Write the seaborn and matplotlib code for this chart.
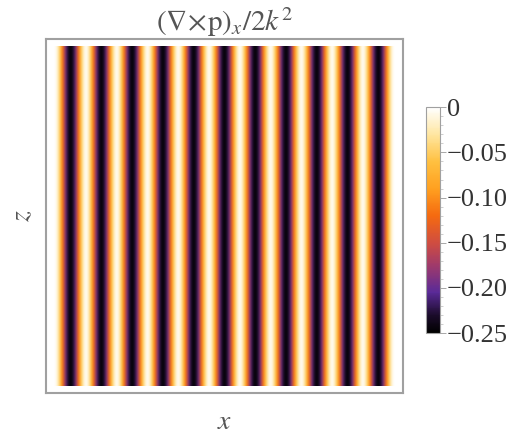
import numpy as np
import pandas as pd
import seaborn as sns
import matplotlib
matplotlib.use('Agg')
import matplotlib.pyplot as plt
from matplotlib.colors import LinearSegmentedColormap

sns.set_style('white')
plt.rcParams['font.family'] = ['Liberation Serif', 'DejaVu Serif']
plt.rcParams['mathtext.fontset'] = 'stix'

# one period of the stripe pattern, read from bright centre to bright centre
stripe_profile = [0.0, -0.02, -0.06, -0.12, -0.19, -0.23, -0.25,
                  -0.23, -0.19, -0.12, -0.06, -0.02]
n_periods = 11
n_rows = 10
cbar_ticks = [0, -0.05, -0.10, -0.15, -0.20, -0.25]
cbar_labels = ['0', '\u22120.05', '\u22120.10', '\u22120.15', '\u22120.20', '\u22120.25']

# colours sampled off the colour bar, bottom to top
sunset_pos = [0.0, 0.08, 0.18, 0.30, 0.40, 0.52, 0.64, 0.76, 0.88, 1.0]
sunset_hex = ['#000000', '#1c0c2c', '#5a2a98', '#a03a6a', '#d04d40',
              '#f56a10', '#ffa020', '#ffc040', '#ffe6a0', '#ffffff']
sunset = LinearSegmentedColormap.from_list('sunset', list(zip(sunset_pos, sunset_hex)))

row = np.array(stripe_profile * n_periods + stripe_profile[:1])
field = pd.DataFrame(np.tile(row, (n_rows, 1)))

fig = plt.figure(figsize=(5.28, 4.43), dpi=100)
ax = fig.add_axes([0.087, 0.113, 0.676, 0.799])
cax = fig.add_axes([0.807, 0.248, 0.0265, 0.510])

sns.heatmap(field, ax=ax, cbar_ax=cax, cmap=sunset, vmin=-0.25, vmax=0,
            xticklabels=False, yticklabels=False)

ncol = field.shape[1]
# smooth the stripes: hide the cell mesh and draw the same grid with bicubic shading
mesh = ax.collections[0]
mesh.set_visible(False)
ax.imshow(field.values, extent=(0, ncol, n_rows, 0), aspect='auto',
          interpolation='bicubic', cmap=sunset, vmin=-0.25, vmax=0)

padx = ncol * 8 / 342
pady = n_rows * 7 / 340
ax.set_xlim(-padx, ncol + padx)
ax.set_ylim(n_rows + pady, -pady)
for s in ax.spines.values():
    s.set_visible(True)
    s.set_color('#a0a0a0')
    s.set_linewidth(1.5)

ax.set_title(r'$(\nabla\!\times\!\mathrm{p})_x/2k^2$', fontsize=21, color='#555555', pad=6)
ax.set_xlabel(r'$x$', fontsize=20, color='#555555', labelpad=12)
ax.set_ylabel(r'$z$', fontsize=20, color='#555555', labelpad=8)

cb = mesh.colorbar
cb.outline.set_linewidth(0.8)
cb.outline.set_edgecolor('#a0a0a0')
cb.set_ticks(cbar_ticks)
cb.set_ticklabels(cbar_labels)
cb.ax.minorticks_on()
cb.ax.yaxis.set_minor_locator(matplotlib.ticker.MultipleLocator(0.01))
cb.ax.tick_params(which='major', length=4, width=0.6, color='#999999',
                  labelsize=19, labelcolor='#333333', pad=1, direction='out')
cb.ax.tick_params(which='minor', length=2, width=0.5, color='#bbbbbb', direction='out')
cb.ax.tick_params(axis='x', which='both', length=0)

fig.savefig('out.png', dpi=100)
